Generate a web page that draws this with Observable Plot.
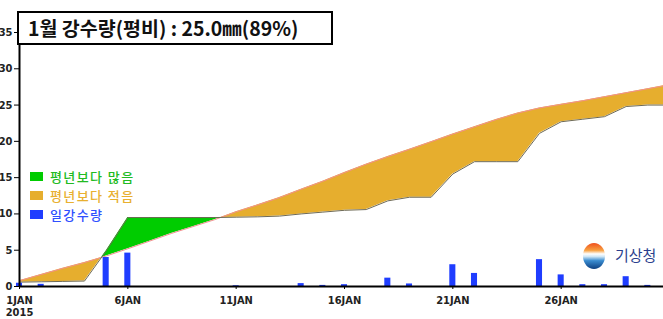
<!DOCTYPE html>
<html><head><meta charset="utf-8">
<script src="https://cdn.jsdelivr.net/npm/d3@7"></script>
<script src="https://cdn.jsdelivr.net/npm/@observablehq/plot@0.6"></script>
<style>
html,body{margin:0;padding:0;background:#fff;overflow:hidden;}
#wrap{position:relative;width:663px;height:319px;overflow:hidden;}
#wrap svg text{font-family:"Liberation Sans Narrow","DejaVu Sans Condensed",sans-serif;}
.title{position:absolute;left:17px;top:11px;width:303px;height:30px;border:2px solid #000;background:#fff;
  font-family:"Noto Sans CJK KR",sans-serif;font-weight:700;font-size:19.5px;line-height:30px;padding-left:9px;color:#111;white-space:nowrap;box-sizing:content-box;overflow:hidden;}
.legend{position:absolute;left:30px;top:167px;font-family:"Noto Sans CJK KR",sans-serif;font-size:13px;font-weight:500;letter-spacing:1.4px;}
.legend div{height:19px;line-height:19px;white-space:nowrap;}
.legend span{display:inline-block;height:19px;line-height:19px;vertical-align:top;}
.legend span.sw{width:13px;height:9px;margin:5px 7px 0 0;}
.logo{position:absolute;left:583px;top:243px;width:22px;height:26px;border-radius:50%;
  background:linear-gradient(to bottom,#f0501e 0%,#f7a040 28%,#ffffff 42%,#cfe6f5 52%,#3a8cd0 68%,#0d3f80 100%);}
.logotext{position:absolute;left:615px;top:246px;font-family:"Noto Sans CJK KR",sans-serif;font-size:15px;color:#2b3f8e;line-height:18px;height:18px;}
</style></head><body>
<div id="wrap"></div>
<script>
const days = [1,2,3,4,5,6,7,8,9,10,11,12,13,14,15,16,17,18,19,20,21,22,23,24,25,26,27,28,29,30,31];
const normalCum = [0.8,1.65,2.5,3.3,4.2,5.2,6.25,7.3,8.25,9.2,10.3,11.25,12.25,13.4,14.5,15.7,16.85,17.9,18.9,19.95,21.0,22.0,23.0,23.9,24.6,25.1,25.6,26.15,26.7,27.25,27.8];
const actualCum = [0.6,0.65,0.7,0.75,4.9,9.5,9.5,9.5,9.5,9.5,9.55,9.6,9.7,10.0,10.25,10.5,10.6,11.8,12.3,12.3,15.5,17.2,17.2,17.2,21.1,22.7,23.05,23.4,24.8,25.0,25.0];
const dailyRain = [0.45,0.3,0,0,4.0,4.6,0,0,0,0,0.1,0,0,0.4,0.15,0.25,0,1.15,0.35,0,3.0,1.8,0,0,3.7,1.6,0.25,0.25,1.35,0.15,0];
const xTicks = [1,6,11,16,21,26];
const xTickLabels = ["1JAN\n2015","6JAN","11JAN","16JAN","21JAN","26JAN"];
const yTicks = [0,5,10,15,20,25,30,35];
const titleText = "1월 강수량(평비) : 25.0㎜(89%)";
const legendLabels = ["평년보다 많음","평년보다 적음","일강수량"];
const legendColors = ["#00cc00","#e6ae2e","#1f3dff"];
const legendTextColors = ["#22bb22","#e8b030","#3050ff"];
const logoText = "기상청";

const rows = days.map((d,i)=>({day:d, normal:normalCum[i], actual:actualCum[i], rain:dailyRain[i]}));
const dense = [];
for (let i=0;i<rows.length;i++){
  dense.push(rows[i]);
  if (i<rows.length-1){
    const a=rows[i], b=rows[i+1];
    const da=a.actual-a.normal, db=b.actual-b.normal;
    if (da*db<0){
      const t=da/(da-db);
      const v=a.normal+t*(b.normal-a.normal);
      dense.push({day:a.day+t, normal:v, actual:v});
    }
  }
}

const plot = Plot.plot({
  width:663, height:319, marginLeft:19, marginRight:0, marginTop:32, marginBottom:33,
  x:{domain:[1,31], range:[19,669]},
  y:{domain:[0,35]},
  style:{background:"transparent", color:"#222"},
  marks:[
    Plot.areaY(dense,{x:"day", y1:"normal", y2:d=>Math.max(d.actual,d.normal), fill:legendColors[0], curve:"linear"}),
    Plot.areaY(dense,{x:"day", y1:"normal", y2:d=>Math.min(d.actual,d.normal), fill:legendColors[1], curve:"linear"}),
    Plot.lineY(rows,{x:"day", y:"normal", stroke:"#f29090", strokeWidth:1}),
    Plot.lineY(rows,{x:"day", y:"actual", stroke:"#6e6a55", strokeWidth:1}),
    Plot.rectY(rows.filter(d=>d.rain>0),{x1:d=>d.day-0.14, x2:d=>d.day+0.14, y1:0, y2:"rain", fill:legendColors[2]}),
    Plot.axisY({ticks:yTicks, label:null, tickSize:5, tickPadding:2, fontSize:11, fontWeight:"bold", stroke:"#000", fill:"#222"}),
    Plot.axisX({ticks:xTicks, label:null, tickFormat:(d)=>xTickLabels[xTicks.indexOf(d)], tickSize:3, tickPadding:6, fontSize:11, fontWeight:"bold", lineHeight:1.1, stroke:"#000", fill:"#222"}),
    Plot.ruleY([0],{strokeWidth:2, stroke:"#000"}),
    Plot.ruleX([1],{strokeWidth:2, stroke:"#000"})
  ]
});
const wrap = document.getElementById("wrap");
wrap.appendChild(plot);

const t = document.createElement("div"); t.className="title"; t.textContent=titleText; wrap.appendChild(t);
const lg = document.createElement("div"); lg.className="legend";
legendLabels.forEach((l,i)=>{
  const row=document.createElement("div");
  const sw=document.createElement("span"); sw.className="sw"; sw.style.background=legendColors[i];
  const tx=document.createElement("span"); tx.textContent=l; tx.style.color=legendTextColors[i];
  row.appendChild(sw); row.appendChild(tx); lg.appendChild(row);
});
wrap.appendChild(lg);
const logo=document.createElement("div"); logo.className="logo"; wrap.appendChild(logo);
const lt=document.createElement("div"); lt.className="logotext"; lt.textContent=logoText; wrap.appendChild(lt);
</script>
</body></html>
